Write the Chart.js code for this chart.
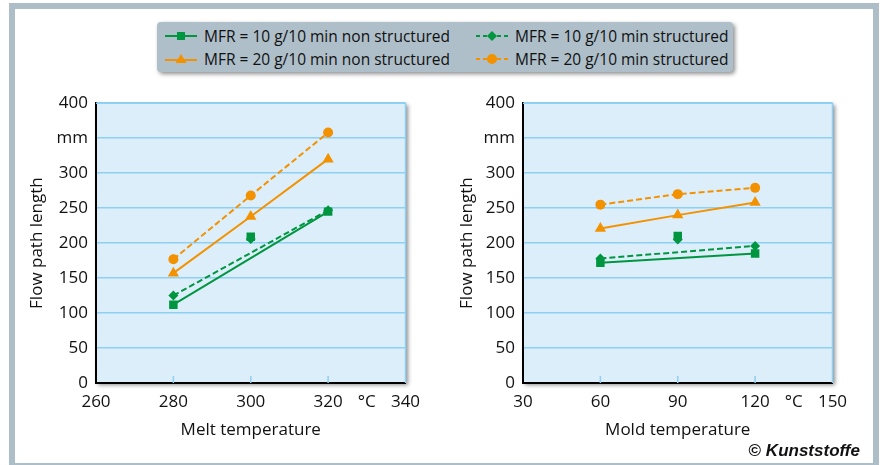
<!DOCTYPE html>
<html>
<head>
<meta charset="utf-8">
<script src="https://cdn.jsdelivr.net/npm/chart.js"></script>
<style>
  html, body { margin: 0; padding: 0; background: #fff; }
  body { width: 884px; height: 465px; position: relative; overflow: hidden; font-family: "Open Sans", sans-serif; }
  #frame { position: absolute; left: 9px; top: 3px; width: 870px; height: 462px; box-sizing: border-box;
           border: 6px solid #adbec8; border-bottom-width: 2px; }
  #legend { position: absolute; left: 157px; top: 22px; width: 576px; height: 50px; background: #aebfc9;
            border-radius: 4px; box-shadow: 2px 2px 4px rgba(0,0,0,0.45); }
  .item { position: absolute; height: 20px; display: flex; align-items: center; font-size: 15.5px; color: #111; white-space: nowrap; }
  .item svg { margin-right: 7px; }
  .panel { position: absolute; }
  #credit { position: absolute; right: 24px; top: 441px; font-family: "Liberation Sans Narrow", "Liberation Sans", sans-serif;
            font-weight: bold; font-size: 17px; color: #111; }
  #credit i { font-style: italic; }
</style>
</head>
<body>
<div id="frame"></div>
<div id="legend"></div>
<canvas id="meltChart" class="panel" width="420" height="365" style="left:20px;top:85px"></canvas>
<canvas id="moldChart" class="panel" width="420" height="365" style="left:450px;top:85px"></canvas>
<div id="credit">© <i>Kunststoffe</i></div>
<script>
// Melt temperature panel
const meltTemps = [280, 300, 320];
const meltMfr10Non = [112, 209, 245];
const meltMfr10Str = [125, 206, 247];
const meltMfr20Non = [157, 238, 320];
const meltMfr20Str = [177, 268, 358];
const meltTicks = [260, 270, 280, 290, 300, 310, 320, 330, 340];
const meltTickLabels = ['260', '', '280', '', '300', '', '320', '°C', '340'];

// Mold temperature panel
const moldTemps = [60, 90, 120];
const moldMfr10Non = [172, 210, 185];
const moldMfr10Str = [178, 205, 196];
const moldMfr20Non = [221, 240, 258];
const moldMfr20Str = [255, 270, 279];
const moldTicks = [30, 45, 60, 75, 90, 105, 120, 135, 150];
const moldTickLabels = ['30', '', '60', '', '90', '', '120', '°C', '150'];

const yTicks = [0, 50, 100, 150, 200, 250, 300, 350, 400];
const yTickLabels = ['0', '50', '100', '150', '200', '250', '300', 'mm', '400'];

const seriesNames = [
    'MFR = 10 g/10 min non structured',
    'MFR = 10 g/10 min structured',
    'MFR = 20 g/10 min non structured',
    'MFR = 20 g/10 min structured'
];

const GREEN = '#009640';
const ORANGE = '#f39200';
const GRID = '#8dd0f3';

// Legend
const legendSymbols = [
    `<svg width="32" height="12"><line x1="0" y1="6" x2="32" y2="6" stroke="${GREEN}" stroke-width="2"/><rect x="12" y="2" width="8" height="8" fill="${GREEN}"/></svg>`,
    `<svg width="32" height="12"><line x1="0" y1="6" x2="32" y2="6" stroke="${GREEN}" stroke-width="2" stroke-dasharray="4 3"/><polygon points="16,1 21,6 16,11 11,6" fill="${GREEN}"/></svg>`,
    `<svg width="32" height="12"><line x1="0" y1="7" x2="32" y2="7" stroke="${ORANGE}" stroke-width="2"/><polygon points="16,1 21.5,10 10.5,10" fill="${ORANGE}"/></svg>`,
    `<svg width="32" height="12"><line x1="0" y1="6" x2="32" y2="6" stroke="${ORANGE}" stroke-width="2" stroke-dasharray="4 3"/><circle cx="16" cy="6" r="5" fill="${ORANGE}"/></svg>`
];
const legendPos = [[8, 4], [319, 4], [8, 27], [319, 27]];
document.getElementById('legend').innerHTML = seriesNames.map((name, i) =>
    `<div class="item" style="left:${legendPos[i][0]}px;top:${legendPos[i][1]}px">${legendSymbols[i]}<span>${name}</span></div>`
).join('');

// plot background, top/right border and inner x ticks
const plotArea = {
    id: 'plotArea',
    beforeDraw(chart) {
        const { ctx, chartArea: a } = chart;
        ctx.save();
        ctx.shadowColor = 'rgba(0,0,0,0.45)';
        ctx.shadowBlur = 4;
        ctx.shadowOffsetX = 2;
        ctx.shadowOffsetY = 2;
        ctx.fillStyle = '#ddeefb';
        ctx.fillRect(a.left, a.top, a.width, a.height);
        ctx.restore();
    },
    beforeDatasetsDraw(chart, args, opts) {
        const { ctx, chartArea: a, scales } = chart;
        ctx.save();
        ctx.strokeStyle = GRID;
        ctx.lineWidth = 1.5;
        ctx.beginPath();
        ctx.moveTo(a.left, a.top);
        ctx.lineTo(a.right, a.top);
        ctx.lineTo(a.right, a.bottom);
        (opts.marks || []).forEach(v => {
            const x = scales.x.getPixelForValue(v);
            ctx.moveTo(x, a.bottom);
            ctx.lineTo(x, a.bottom - 7);
        });
        ctx.stroke();
        ctx.restore();
    }
};

function makeChart(id, xs, s10n, s10s, s20n, s20s, ticks, tickLabels, title, axisWidth) {
    const pts = (arr, idx) => idx.map(i => ({ x: xs[i], y: arr[i] }));
    const ends = [0, 2];
    const mid = [1];
    const all = [0, 1, 2];
    const base = { borderWidth: 2, pointBorderWidth: 0, fill: false, tension: 0 };
    return new Chart(document.getElementById(id), {
        type: 'line',
        data: {
            datasets: [
                { ...base, label: seriesNames[2], data: pts(s20n, all), borderColor: ORANGE, backgroundColor: ORANGE, pointStyle: 'triangle', pointRadius: 6.5 },
                { ...base, label: seriesNames[3], data: pts(s20s, all), borderColor: ORANGE, backgroundColor: ORANGE, borderDash: [6, 3], pointStyle: 'circle', pointRadius: 5 },
                { ...base, label: seriesNames[0], data: pts(s10n, ends), borderColor: GREEN, backgroundColor: GREEN, pointStyle: 'rect', pointRadius: 6 },
                { ...base, label: seriesNames[1], data: pts(s10s, ends), borderColor: GREEN, backgroundColor: GREEN, borderDash: [6, 3], pointStyle: 'rectRot', pointRadius: 5 },
                { ...base, label: seriesNames[1], data: pts(s10s, mid), showLine: false, borderColor: GREEN, backgroundColor: GREEN, pointStyle: 'rectRot', pointRadius: 5 },
                { ...base, label: seriesNames[0], data: pts(s10n, mid), showLine: false, borderColor: GREEN, backgroundColor: GREEN, pointStyle: 'rect', pointRadius: 6 }
            ]
        },
        options: {
            responsive: false,
            animation: false,
            devicePixelRatio: 1,
            layout: { padding: { top: 12, right: 420 - axisWidth - 309.5, left: 0, bottom: 0 } },
            plugins: {
                legend: { display: false },
                tooltip: { enabled: false },
                plotArea: { marks: xs }
            },
            scales: {
                x: {
                    type: 'linear',
                    min: ticks[0],
                    max: ticks[ticks.length - 1],
                    afterBuildTicks: s => { s.ticks = ticks.map(v => ({ value: v })); },
                    afterFit: s => { s.height = 67; },
                    grid: { display: false, drawTicks: false },
                    border: { color: '#000', width: 2 },
                    ticks: {
                        color: '#111', padding: 9, maxRotation: 0, autoSkip: false,
                        font: { family: 'Open Sans', size: 17 },
                        callback: (v, i) => tickLabels[i]
                    },
                    title: {
                        display: true, text: title, color: '#111',
                        font: { family: 'Open Sans', size: 17 }, padding: 10
                    }
                },
                y: {
                    min: 0,
                    max: 400,
                    afterBuildTicks: s => { s.ticks = yTicks.map(v => ({ value: v })); },
                    afterFit: s => { s.width = axisWidth; },
                    grid: { color: GRID, lineWidth: 1.5, drawTicks: false },
                    border: { color: '#000', width: 2 },
                    ticks: {
                        color: '#111', padding: 8,
                        font: { family: 'Open Sans', size: 17 },
                        callback: (v, i) => yTickLabels[i]
                    },
                    title: {
                        display: true, text: 'Flow path length', color: '#111',
                        font: { family: 'Open Sans', size: 17 }, padding: 7
                    }
                }
            }
        },
        plugins: [plotArea]
    });
}

makeChart('meltChart', meltTemps, meltMfr10Non, meltMfr10Str, meltMfr20Non, meltMfr20Str,
    meltTicks, meltTickLabels, 'Melt temperature', 76);
makeChart('moldChart', moldTemps, moldMfr10Non, moldMfr10Str, moldMfr20Non, moldMfr20Str,
    moldTicks, moldTickLabels, 'Mold temperature', 73);
</script>
</body>
</html>
